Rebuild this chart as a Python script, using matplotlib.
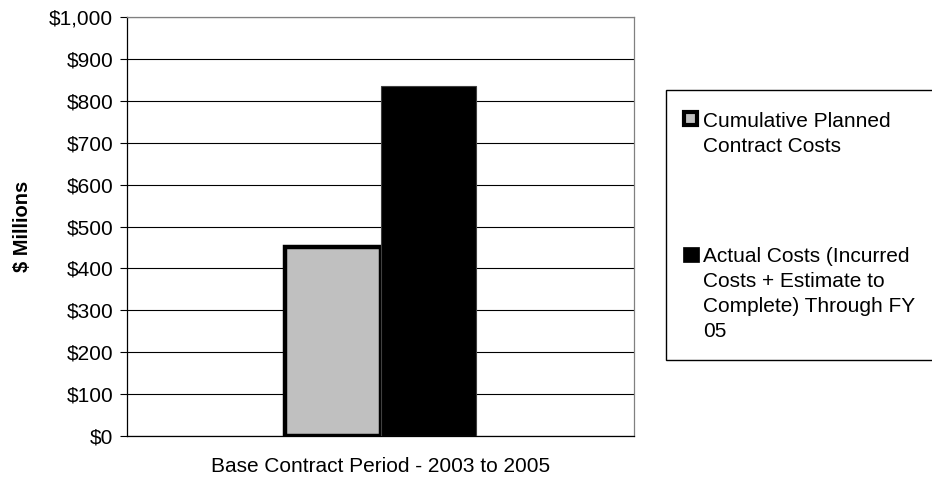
import matplotlib
matplotlib.use("Agg")
import matplotlib.pyplot as plt
from matplotlib.patches import Rectangle
from matplotlib.ticker import FuncFormatter

plt.rcParams["font.family"] = ["Liberation Sans", "DejaVu Sans"]

category = ["Base Contract Period - 2003 to 2005"]
planned = [450]
actual = [835]
series_labels = [
    ["Cumulative Planned", "Contract Costs"],
    ["Actual Costs (Incurred", "Costs + Estimate to", "Complete) Through FY", "05"],
]
yticks = list(range(0, 1001, 100))

W, H = 932, 479
FS = 15
fig = plt.figure(figsize=(W / 100, H / 100), dpi=100)
ax = fig.add_axes([127 / W, 1 - 436 / H, (634 - 127) / W, (436 - 17) / H])

width = 0.188
x = [0]
ax.bar([v - width / 2 for v in x], planned, width, color="#C0C0C0",
       edgecolor="black", linewidth=3.2, zorder=3)
ax.bar([v + width / 2 for v in x], actual, width, color="black",
       edgecolor="#404040", linewidth=0.8, zorder=3)

ax.set_xlim(-0.5, 0.5)
ax.set_ylim(0, 1000)
ax.set_yticks(yticks)
ax.yaxis.set_major_formatter(FuncFormatter(lambda v, _: f"${v:,.0f}"))
ax.yaxis.grid(True, color="black", linewidth=0.8, zorder=0)
ax.set_xticks(x)
ax.set_xticklabels(category)
ax.tick_params(axis="x", length=0, pad=15, labelsize=FS)
ax.tick_params(axis="y", length=5, width=0.8, direction="out", labelsize=FS, pad=5)
ax.set_ylabel("$ Millions", fontsize=14.5, fontweight="bold", labelpad=12)
for side in ("left", "bottom"):
    ax.spines[side].set_color("black")
for side in ("right", "top"):
    ax.spines[side].set_color("#808080")
for s in ax.spines.values():
    s.set_linewidth(0.9)

# legend panel, drawn in figure pixels
def px(xp, yp):
    return xp / W, 1 - yp / H

fig.add_artist(Rectangle(px(666, 360), (W + 5 - 666) / W, (360 - 90) / H,
                         transform=fig.transFigure, facecolor="white",
                         edgecolor="black", linewidth=1.0, clip_on=False))
fig.add_artist(Rectangle(px(684, 125), 13 / W, 13 / H,
                         transform=fig.transFigure, facecolor="#C0C0C0",
                         edgecolor="black", linewidth=3.0))
fig.add_artist(Rectangle(px(683, 262), 16 / W, 15 / H,
                         transform=fig.transFigure, facecolor="black",
                         edgecolor="black", linewidth=0.5))

for lines, base in zip(series_labels, (127, 262)):
    for i, line in enumerate(lines):
        fig.text(*px(703, base + 25 * i), line, fontsize=FS,
                 va="baseline", ha="left")

fig.savefig("out.png", dpi=100)
